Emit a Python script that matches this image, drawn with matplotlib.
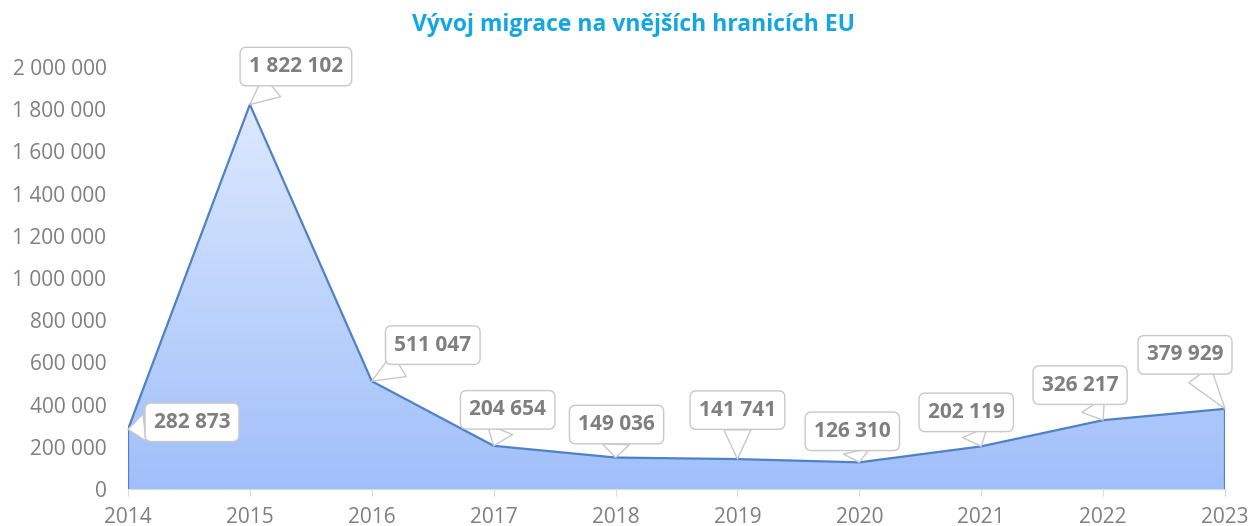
import numpy as np
import matplotlib.pyplot as plt
from matplotlib.path import Path
from matplotlib.patches import PathPatch

years = [2014, 2015, 2016, 2017, 2018, 2019, 2020, 2021, 2022, 2023]
migrants = [282873, 1822102, 511047, 204654, 149036, 141741, 126310, 202119, 326217, 379929]
labels = ['282 873', '1 822 102', '511 047', '204 654', '149 036',
          '141 741', '126 310', '202 119', '326 217', '379 929']
# where each callout sits relative to its point (pixels)
offsets = [(64, 7), (46, 38), (61, 36), (14, 36), (1, 33),
           (0, 49), (-7, 31), (-15, 34), (-23, 35), (-40, 54)]

plt.rcParams['font.family'] = ['Open Sans', 'DejaVu Sans']
grey = '#7f7f7f'

fig = plt.figure(figsize=(12.51, 5.26), dpi=100)
ax = fig.add_axes([128/1251, 1 - 489/526, (1225 - 128)/1251, (489 - 67)/526])

x = np.array(years)
y = np.array(migrants)

# gradient fill under the line, clipped to the area polygon
verts = [(x[0], 0)] + list(zip(x, y)) + [(x[-1], 0), (x[0], 0)]
poly = PathPatch(Path(verts), facecolor='none', edgecolor='none')
ax.add_patch(poly)
top = np.array([0xdd, 0xe9, 0xfe]) / 255
bot = np.array([0xa0, 0xbf, 0xfa]) / 255
t = np.linspace(0, 1, 256)[:, None]
grad = (top * (1 - t) + bot * t)[:, None, :].repeat(2, axis=1)
im = ax.imshow(grad, extent=[x[0], x[-1], 0, y.max()], origin='upper',
               aspect='auto', zorder=1)
im.set_clip_path(poly)
ax.plot(x, y, color='#4f81c7', lw=1.6, zorder=2)
ax.plot([x[0], x[0]], [0, y[0]], color='#4f81c7', lw=1.6, zorder=2)
ax.plot([x[-1], x[-1]], [0, y[-1]], color='#4f81c7', lw=1.6, zorder=2)

for xi, yi, lab, off in zip(x, y, labels, offsets):
    ax.annotate(lab, xy=(xi, yi), xytext=off, textcoords='offset pixels',
                ha='center', va='center', fontsize=15, fontweight='bold',
                color=grey, zorder=5,
                bbox=dict(boxstyle='round,pad=0.42,rounding_size=0.3',
                          fc='white', ec='#c8c8c8', lw=1),
                arrowprops=dict(arrowstyle='wedge,tail_width=1.3,shrink_factor=0.5',
                                fc='white', ec='#c8c8c8', lw=1,
                                shrinkA=0, shrinkB=0))

ax.set_xlim(x[0], x[-1])
ax.set_ylim(0, 2000000)
ax.set_xticks(years)
ax.set_xticklabels([str(v) for v in years])
yt = np.arange(0, 2000001, 200000)
ax.set_yticks(yt)
ax.set_yticklabels([f'{v:,}'.replace(',', ' ') for v in yt])

for s in ['top', 'right', 'left']:
    ax.spines[s].set_visible(False)
ax.spines['bottom'].set_color('#d9d9d9')
ax.spines['bottom'].set_zorder(3)
ax.tick_params(axis='x', colors='#d9d9d9', labelcolor=grey, labelsize=15,
               length=5, pad=8)
ax.tick_params(axis='y', length=0, labelcolor=grey, labelsize=15, pad=15.5)

fig.text(0.506, 1 - 25/526, 'Vývoj migrace na vnějších hranicích EU',
         ha='center', va='center', fontsize=16.5, fontweight='bold', color='#12a6e3')

fig.savefig('out.png', dpi=100)
